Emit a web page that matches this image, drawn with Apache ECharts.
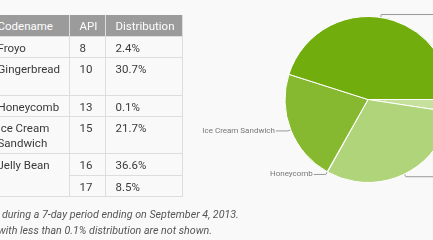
<!DOCTYPE html>
<html>
<head>
<meta charset="utf-8">
<script src="https://cdn.jsdelivr.net/npm/echarts@6/dist/echarts.min.js"></script>
<style>
  html, body { margin:0; padding:0; width:433px; height:240px; overflow:hidden; background:#f9f9f9; }
  #chart { position:absolute; left:0; top:0; width:760px; height:240px; }
  #tbl { position:absolute; left:-13.5px; top:15px; width:195.5px; table-layout:fixed; border-collapse:collapse; font-family:Roboto, sans-serif; font-size:11.5px; color:#3a3a3a; z-index:2; }
  #tbl th { background:#9b9b9b; color:#fff; font-weight:normal; text-align:left; padding:0 10px; height:21px; border:1px solid #ddd; border-top:none; white-space:nowrap; overflow:hidden; }
  #tbl td { vertical-align:top; text-align:left; padding:4px 10px 0 10px; line-height:14.5px; border:1px solid #ddd; box-sizing:border-box; white-space:nowrap; }
  .note { position:absolute; font-family:Roboto, sans-serif; font-style:italic; font-size:10.7px; line-height:16px; color:#555; white-space:nowrap; z-index:2; }
</style>
</head>
<body>
<div id="chart"></div>
<table id="tbl"></table>
<div class="note" id="note1" style="left:2px; top:207px;"></div>
<div class="note" id="note2" style="left:-2px; top:223px;"></div>
<script>
// Table data
const headers = ['Codename', 'API', 'Distribution'];
const codenames = ['Froyo', 'Gingerbread', 'Honeycomb', 'Ice Cream Sandwich', 'Jelly Bean', ''];
const apiLevels = ['8', '10', '13', '15', '16', '17'];
const distribution = ['2.4%', '30.7%', '0.1%', '21.7%', '36.6%', '8.5%'];
// Pie data
const pieNames = ['Froyo', 'Gingerbread', 'Honeycomb', 'Ice Cream Sandwich', 'Jelly Bean'];
const pieValues = [2.4, 30.7, 0.1, 21.7, 45.1];
const pieColors = ['#c6e19c', '#afd47a', '#d9ecbf', '#86b92f', '#71ad0d'];
// Footnote
const noteLines = ['during a 7-day period ending on September 4, 2013.', 'with less than 0.1% distribution are not shown.'];

// Build table
const rowHeights = [21, 38, 21, 37, 22, 21];
const colWidths = [82, 36, 77.5];
const tbl = document.getElementById('tbl');
let html = '<colgroup>' + colWidths.map(w => '<col style="width:' + w + 'px">').join('') + '</colgroup>';
html += '<tr>' + headers.map(h => '<th>' + h + '</th>').join('') + '</tr>';
for (let i = 0; i < apiLevels.length; i++) {
  html += '<tr style="height:' + rowHeights[i] + 'px">';
  if (i === 4) {
    html += '<td rowspan="2">' + codenames[i] + '</td>';
  } else if (i !== 5) {
    const nm = codenames[i] === 'Ice Cream Sandwich' ? 'Ice Cream<br>Sandwich' : codenames[i];
    html += '<td>' + nm + '</td>';
  }
  html += '<td>' + apiLevels[i] + '</td><td>' + distribution[i] + '</td></tr>';
}
tbl.innerHTML = html;
document.getElementById('note1').textContent = noteLines[0];
document.getElementById('note2').textContent = noteLines[1];

// Pie chart (labels on the right side run past the visible area, as in the reference)
const rightSide = { 'Froyo': true, 'Gingerbread': true, 'Jelly Bean': true };
const chart = echarts.init(document.getElementById('chart'), null, { renderer: 'canvas' });
chart.setOption({
  backgroundColor: 'transparent',
  animation: false,
  series: [{
    type: 'pie',
    center: [368, 99.5],
    radius: 83,
    startAngle: 0,
    clockwise: true,
    avoidLabelOverlap: true,
    data: pieNames.map((n, i) => ({
      name: n,
      value: pieValues[i],
      itemStyle: { color: pieColors[i] },
      labelLine: { length2: rightSide[n] ? 60 : 12 }
    })),
    itemStyle: { borderColor: '#ffffff', borderWidth: 1 },
    label: {
      show: true,
      position: 'outside',
      alignTo: 'labelLine',
      formatter: '{b}',
      fontFamily: 'Roboto, sans-serif',
      fontSize: 8,
      color: '#777',
      distanceToLabelLine: 1
    },
    labelLine: {
      show: true,
      length: 3,
      length2: 12,
      smooth: false,
      lineStyle: { color: '#999', width: 1 }
    },
    emphasis: { disabled: true }
  }]
});
</script>
</body>
</html>
